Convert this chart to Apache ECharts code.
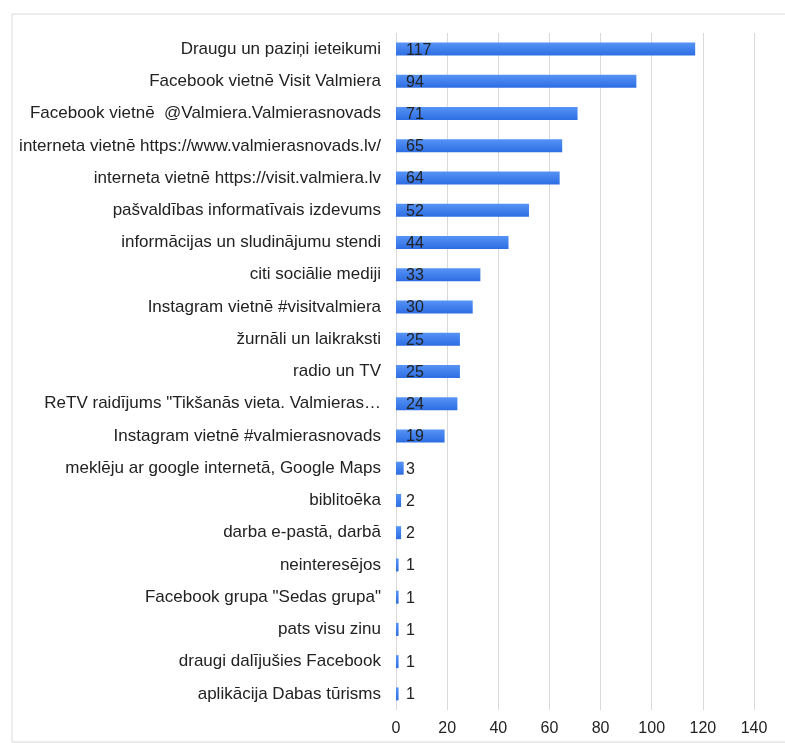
<!DOCTYPE html>
<html><head><meta charset="utf-8">
<script src="https://cdn.jsdelivr.net/npm/echarts@6/dist/echarts.min.js"></script>
<style>html,body{margin:0;padding:0;background:#fff;}#c{width:785px;height:743px;}</style>
</head><body><div id="c"></div>
<script>
var categories = [
  "Draugu un paziņi ieteikumi",
  "Facebook vietnē Visit Valmiera",
  "Facebook vietnē  @Valmiera.Valmierasnovads",
  "interneta vietnē https://www.valmierasnovads.lv/",
  "interneta vietnē https://visit.valmiera.lv",
  "pašvaldības informatīvais izdevums",
  "informācijas un sludinājumu stendi",
  "citi sociālie mediji",
  "Instagram vietnē #visitvalmiera",
  "žurnāli un laikraksti",
  "radio un TV",
  "ReTV raidījums \"Tikšanās vieta. Valmieras…",
  "Instagram vietnē #valmierasnovads",
  "meklēju ar google internetā, Google Maps",
  "biblitoēka",
  "darba e-pastā, darbā",
  "neinteresējos",
  "Facebook grupa \"Sedas grupa\"",
  "pats visu zinu",
  "draugi dalījušies Facebook",
  "aplikācija Dabas tūrisms"
];
var values = [117, 94, 71, 65, 64, 52, 44, 33, 30, 25, 25, 24, 19, 3, 2, 2, 1, 1, 1, 1, 1];
var xTicks = [0, 20, 40, 60, 80, 100, 120, 140];

var chart = echarts.init(document.getElementById('c'), null, {renderer: 'canvas'});
chart.setOption({
  animation: false,
  backgroundColor: '#fff',
  graphic: [{
    type: 'rect', left: 9.5, top: 11.5, shape: {width: 800, height: 728},
    style: {fill: 'none', stroke: '#d9d9d9', lineWidth: 1}, silent: true
  }],
  grid: {left: 396, top: 33, right: 31, bottom: 33, containLabel: false},
  xAxis: {
    type: 'value', min: xTicks[0], max: xTicks[xTicks.length - 1], interval: 20,
    axisLine: {show: false}, axisTick: {show: false},
    axisLabel: {color: '#222', fontFamily: 'Liberation Sans, Arial', fontSize: 16, margin: 11},
    splitLine: {show: true, lineStyle: {color: '#d9d9d9', width: 1}}
  },
  yAxis: {
    type: 'category', data: categories, inverse: true,
    axisLine: {show: false}, axisTick: {show: false},
    axisLabel: {color: '#222', fontFamily: 'Liberation Sans, Arial', fontSize: 17, margin: 15}
  },
  series: [{
    type: 'bar', data: values, barWidth: 13,
    itemStyle: {
      color: new echarts.graphic.LinearGradient(0, 0, 0, 1, [
        {offset: 0, color: '#5693f6'}, {offset: 1, color: '#2c6de2'}
      ])
    },
    label: {
      show: true, position: 'insideLeft', distance: 10, offset: [0, 1],
      color: '#222', fontFamily: 'Liberation Sans, Arial', fontSize: 16
    }
  }]
});
</script></body></html>
